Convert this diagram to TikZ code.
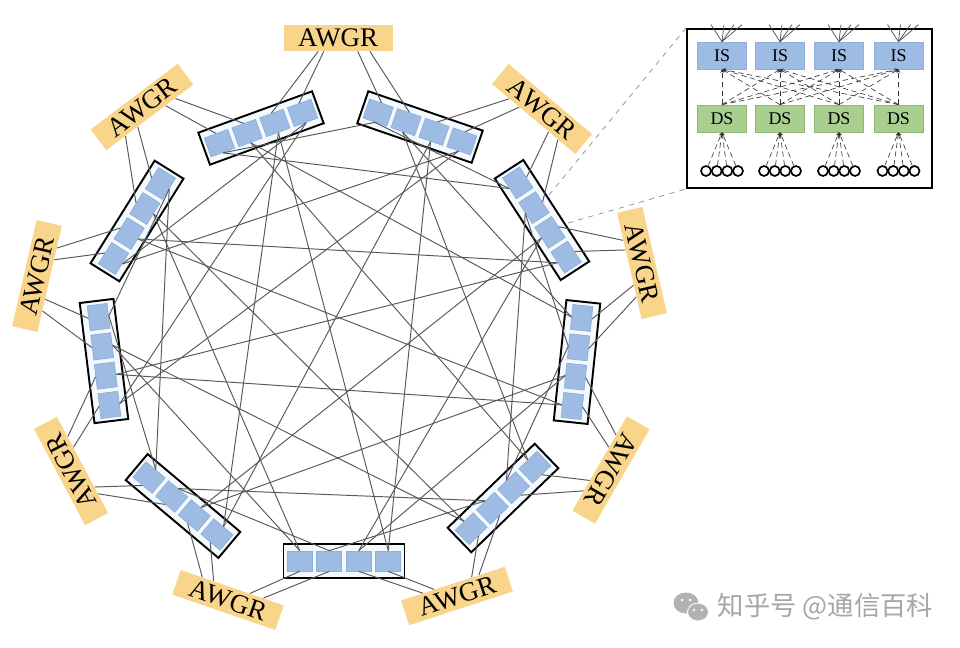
\documentclass[tikz,border=0pt]{standalone}
\usepackage{fontspec}
\setmainfont{Liberation Serif}
\newfontfamily\cjkfont{Noto Sans CJK SC}
\usetikzlibrary{calc,arrows.meta}
\definecolor{awgrfill}{HTML}{F9D58C}
\definecolor{modfill}{HTML}{9EBCE3}
\definecolor{moddraw}{HTML}{8FAED8}
\definecolor{podfill}{HTML}{F4F9FE}
\definecolor{dsfill}{HTML}{A9CF8F}
\definecolor{dsdraw}{HTML}{8FB878}
\definecolor{guide}{HTML}{7F9494}
\tikzset{
  module/.style={draw=moddraw,fill=modfill,minimum width=25*\u,minimum height=20*\u,inner sep=0pt},
  podbox/.style={draw=black,fill=podfill,line width=1.1pt,minimum width=121*\u,minimum height=34*\u,inner sep=0pt},
  awgr/.style={fill=awgrfill,minimum width=109*\u,minimum height=26*\u,inner sep=0pt,font=\fontsize{15.3}{16}\selectfont},
  link/.style={draw=black!65,line width=0.55pt},
  isbox/.style={draw=moddraw,fill=modfill,minimum width=49*\u,minimum height=27*\u,inner sep=0pt,font=\fontsize{10.2}{11}\selectfont},
  dsbox/.style={draw=dsdraw,fill=dsfill,minimum width=49*\u,minimum height=27*\u,inner sep=0pt,font=\fontsize{10.2}{11}\selectfont},
  leaf/.style={circle,draw=black,fill=white,line width=0.95pt,minimum size=10*\u,inner sep=0pt},
  fabric/.style={densely dashed,draw=black!80,line width=0.35pt,-{Stealth[length=2pt,width=2pt]}},
}
\def\u{0.02cm}
\begin{document}
\begin{tikzpicture}[x=0.02cm,y=-0.02cm]
    \useasboundingbox (0,0) rectangle (960,648);
    \foreach \p/\x/\y/\r in {A/261/128/200,B/420/127/161,C/542/220/123,D/577/362/84,E/503/498/44,F/344/561/0,G/183/506/-40,H/104/361/-83,I/137/221/-122}
    {
      \begin{scope}[shift={(\x,\y)},rotate=\r,transform shape]
        \node[podbox] (\p) at (0,0) {};
        \foreach \k in {1,...,4}
          \node[module] (\p\k) at ({(2.5-\k)*29.5},0) {};
      \end{scope}
    }
    \foreach \p/\q/\x/\y/\r/\s/\e/\ta/\tb in {A/B/338/38/0/south west/south east/.32/.37,
      B/C/542/109/-40/south west/south east/.21/.33,
      C/D/642/263/-77/south west/south east/.26/.35,
      D/E/611/470/-120/south west/south east/.2/.33,
      E/F/457/596/18/north east/north west/.25/.32,
      F/G/228/600/-19/north east/north west/.2/.33,
      G/H/71/471/118/south west/south east/.2/.27,
      H/I/37/276/77/south west/south east/.2/.31,
      I/A/142/107/37/south west/south east/.22/.36}
    {
      \node[awgr,rotate=\r] (w\p\q) at (\x,\y) {AWGR};
      \coordinate (w\p\q a) at ($(w\p\q.\s)!\ta!(w\p\q.\e)$);
      \coordinate (w\p\q b) at ($(w\p\q.\s)!\tb!(w\p\q.\e)$);
      \coordinate (w\p\q c) at ($(w\p\q.\s)!.68!(w\p\q.\e)$);
      \coordinate (w\p\q d) at ($(w\p\q.\s)!.79!(w\p\q.\e)$);
      \draw[link] (\p3.south) -- (w\p\q a);
      \draw[link] (\p4.south) -- (w\p\q b);
      \draw[link] (\q1.south) -- (w\p\q c);
      \draw[link] (\q2.south) -- (w\p\q d);
    }
    \foreach \a/\b in {A1/B1,A1/C1,A2/D1,A2/E1,A3/F1,A3/G1,A4/H1,A4/I1,
      B1/C1,B2/D1,B2/E1,B3/F1,B3/G1,B4/H1,B4/I1,
      C2/D2,C2/E2,C3/F2,C3/G2,C4/H2,C4/I2,
      D2/E2,D3/F2,D3/G2,D4/H2,D4/I2,
      E3/F3,E3/G3,E4/H3,E4/I3,
      F3/G3,F4/H3,F4/I3,
      G4/H4,G4/I4,H4/I4}
      \draw[link] (\a.north) -- (\b.north);
    \node[draw=black,fill=white,line width=1.1pt,minimum width=245*\u,minimum height=159*\u,inner sep=0pt] (inset) at (809.5,108.5) {};
    \coordinate (zoomup) at (549,195);
    \coordinate (zoomdown) at (568,223);
    \draw[dashed,guide,line width=0.4pt] (zoomup) -- (inset.north west);
    \draw[dashed,guide,line width=0.4pt] (zoomdown) -- (inset.south west);
    \foreach \i/\x in {1/722,2/780,3/839,4/898.5}
    {
      \node[isbox] (is\i) at (\x,55.5) {IS};
      \node[dsbox] (ds\i) at (\x,118.5) {DS};
      \foreach \j/\dx in {1/-11,2/2,3/12,4/20}
      {
        \coordinate (ant\i\j) at ($(is\i.north)+(\dx,-17)$);
        \draw[black!70,line width=0.4pt] (is\i.north) -- (ant\i\j);
      }
      \foreach \j/\off in {1/-16,2/-5.3,3/5.3,4/16}
      {
        \node[leaf] (leaf\i\j) at (\x+\off,171) {};
        \draw[fabric] (leaf\i\j) -- (ds\i.south);
      }
    }
    \foreach \i in {1,...,4}
      \foreach \j in {1,...,4}
        \draw[fabric] (ds\j.north) -- (is\i.south);
    \fill[black!30] (686,603) ellipse [x radius=12.5,y radius=10.5];
    \fill[black!30,draw=white,line width=0.5pt] (698,612) ellipse [x radius=10.5,y radius=9];
    \fill[white] (682,600) circle [radius=1.5] (690,600) circle [radius=1.5] (694,610) circle [radius=1.3] (702,610) circle [radius=1.3];
    \node[text=black!35,font=\cjkfont\fontsize{15}{16}\selectfont,inner sep=0pt] (mark) at (825.5,607) {知乎号 @通信百科};
\end{tikzpicture}
\end{document}
